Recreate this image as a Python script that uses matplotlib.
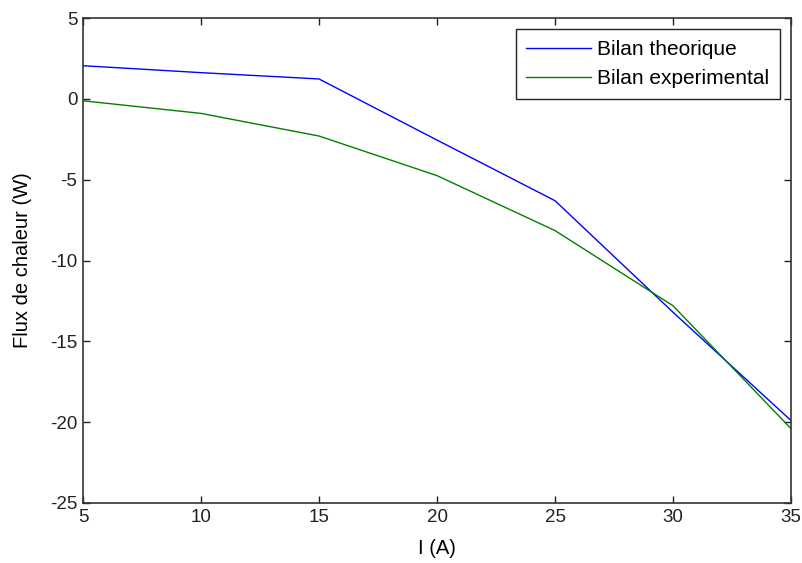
import numpy as np
import matplotlib.pyplot as plt

plt.rcParams['font.family'] = ['Liberation Sans', 'DejaVu Sans']
plt.rcParams['axes.unicode_minus'] = False

# courant (A) et flux de chaleur (W)
courant = [5, 10, 15, 20, 25, 30, 35]
bilan_theo = [2.05, 1.62, 1.23, -2.55, -6.3, -13.2, -19.9]
bilan_exp = [-0.12, -0.9, -2.3, -4.75, -8.15, -12.8, -20.4]

fig = plt.figure(figsize=(8.02, 5.63), dpi=100)
ax = fig.add_axes([0.1035, 0.1066, 0.8828, 0.8614])

ax.plot(courant, bilan_theo, color='#0000ff', lw=1.0, label='Bilan theorique')
ax.plot(courant, bilan_exp, color='#008000', lw=1.0, label='Bilan experimental')

ax.set_xlim(5, 35)
ax.set_ylim(-25, 5)
ax.set_xticks(np.arange(5, 36, 5))
ax.set_yticks(np.arange(-25, 6, 5))
ax.tick_params(direction='in', top=True, right=True, length=5, width=1,
               labelsize=13.5, colors='#222222', pad=4)
for s in ax.spines.values():
    s.set_color('#333333')
    s.set_linewidth(1.2)

ax.set_xlabel('I (A)', fontsize=14.5, labelpad=10)
ax.set_ylabel('Flux de chaleur (W)', fontsize=14.5, labelpad=13)

leg = ax.legend(loc='upper right', fontsize=15, fancybox=False, framealpha=1,
                edgecolor='#222222', borderaxespad=0.55, handlelength=3.1,
                handletextpad=0.3, labelspacing=0.5, borderpad=0.5)
leg.get_frame().set_linewidth(1.0)

plt.savefig('out.png', dpi=100)
